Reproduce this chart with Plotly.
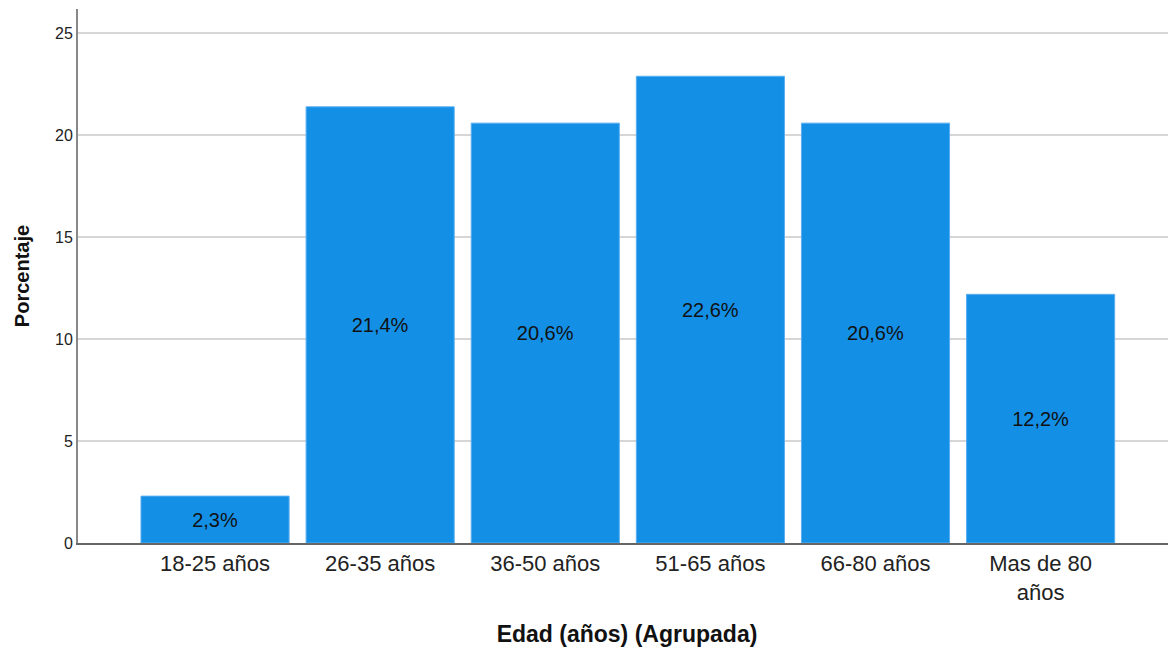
import plotly.graph_objects as go

categories = ["18-25 años", "26-35 años", "36-50 años", "51-65 años", "66-80 años", "Mas de 80<br>años"]
bar_values = [2.3, 21.4, 20.6, 22.9, 20.6, 12.2]
bar_labels = ["2,3%", "21,4%", "20,6%", "22,6%", "20,6%", "12,2%"]
y_ticks = [0, 5, 10, 15, 20, 25]

FONT = "Liberation Sans, Arial, sans-serif"

fig = go.Figure(
    go.Bar(
        x=list(range(len(categories))),
        y=bar_values,
        text=bar_labels,
        textposition="inside",
        insidetextanchor="middle",
        textangle=0,
        textfont=dict(family=FONT, size=20, color="#111111"),
        marker=dict(color="#148fe6", line=dict(color="#5aaef0", width=1)),
        hoverinfo="skip",
    )
)

fig.update_layout(
    width=1168,
    height=642,
    margin=dict(l=70, r=0, t=1, b=107),
    paper_bgcolor="white",
    plot_bgcolor="white",
    bargap=0.103,
    showlegend=False,
    font=dict(family=FONT, color="#222222"),
    uniformtext=dict(minsize=10, mode="show"),
)

fig.update_xaxes(
    range=[-0.83, 5.82],
    tickmode="array",
    tickvals=list(range(len(categories))),
    ticktext=categories,
    tickfont=dict(family=FONT, size=22, color="#222222"),
    ticks="",
    showline=True,
    linecolor="#666666",
    linewidth=2,
    showgrid=False,
    zeroline=False,
    title=dict(text="<b>Edad (años) (Agrupada)</b>", font=dict(family=FONT, size=23, color="#111111"), standoff=22),
)

fig.update_yaxes(
    range=[0, 26.2],
    tickmode="array",
    tickvals=y_ticks,
    ticktext=[str(v) for v in y_ticks],
    tickfont=dict(family=FONT, size=16, color="#222222"),
    ticks="",
    ticklen=0,
    showline=True,
    linecolor="#888888",
    linewidth=2,
    showgrid=True,
    gridcolor="#d6d6d6",
    gridwidth=2,
    zeroline=False,
    title=dict(text="<b>Porcentaje</b>", font=dict(family=FONT, size=20, color="#111111"), standoff=20),
)

fig.write_html("out.html")
